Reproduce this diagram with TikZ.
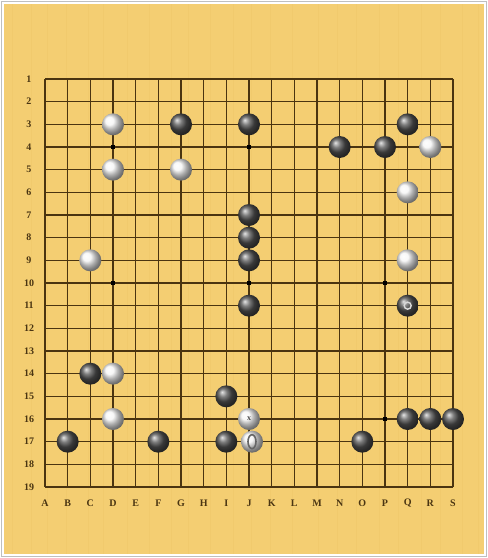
\documentclass[tikz,border=0pt]{standalone}
\usepackage{fontspec}
\setmainfont{Liberation Serif}
\begin{document}
\begin{tikzpicture}[x=1pt,y=-1pt]
\definecolor{wood}{HTML}{F4CE72}
\definecolor{woodline}{HTML}{EDC466}
\definecolor{gridc}{HTML}{4A3410}
\definecolor{labc}{HTML}{4A3512}
\tikzset{
  lab/.style={font=\fontsize{10}{10}\selectfont\bfseries, text=labc, inner sep=0pt},
  bstone/.style={ball color=black!68, draw=none},
  wstone/.style={ball color=black!4, draw=none},
}
\useasboundingbox (0,0) rectangle (488,558);
\fill[white] (0,0) rectangle (488,558);
\draw[black!25, line width=1pt] (1.5,1.5) rectangle (486.5,556.5);
\fill[wood] (4,4) rectangle (484,554);
% faint wood grain
\foreach \gx in {12,31,47,66,88,103,127,149,171,188,210,233,251,270,292,318,337,356,379,398,421,440,462,478}
  \draw[woodline, line width=1pt, opacity=0.4] (\gx,4) -- (\gx,554);
% grid
\foreach \i in {0,...,18} {
  \draw[gridc, line width=1.6pt] ({45+\i*22.6667},79) -- ({45+\i*22.6667},487);
  \draw[gridc, line width=1.6pt] (45,{79+\i*22.6667}) -- (453,{79+\i*22.6667});
}
% star points
\foreach \c/\r in {3/4,9/4,3/10,9/10,15/10,15/16}
  \fill[black] ({45+\c*22.6667-2},{79+(\r-1)*22.6667-2}) rectangle ++(4,4);
% row labels
\foreach \r in {1,...,19}
  \node[lab] (row\r) at (29,{79+(\r-1)*22.6667}) {\r};
% column labels
\foreach \L [count=\n from 0] in {A,B,C,D,E,F,G,H,I,J,K,L,M,N,O,P,Q,R,S}
  \node[lab] (col\L) at ({45+\n*22.6667},503) {\L};
% black stones
\foreach \c/\r in {6/3,9/3,16/3,13/4,15/4,9/7,9/8,9/9,9/11,16/11,2/14,8/15,16/16,17/16,18/16,1/17,5/17,8/17,14/17}
  \shade[bstone] ({45+\c*22.6667},{79+(\r-1)*22.6667}) circle (11);
% white stones
\foreach \c/\r in {3/3,17/4,3/5,6/5,16/6,2/9,16/9,3/14,3/16,9/16}
  \shade[wstone] ({45+\c*22.6667},{79+(\r-1)*22.6667}) circle (11);
% marked white stone J17
\shade[wstone] ({45+9*22.6667+3},{79+16*22.6667}) circle (11);
\draw[black!60, line width=1.6pt] ({45+9*22.6667+3},{79+16*22.6667}) ellipse (4 and 7);
% mark on J16
\node[font=\fontsize{8}{8}\selectfont\bfseries, text=black!70, inner sep=0pt] (mkx) at ({45+9*22.6667},{79+15*22.6667}) {x};
% ring on Q11
\draw[white!85!black, line width=1.4pt] ({45+16*22.6667},{79+10*22.6667}) circle (3.5);
\end{tikzpicture}
\end{document}
